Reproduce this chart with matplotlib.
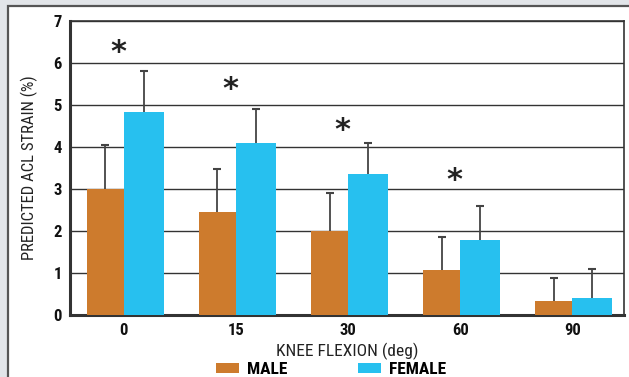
import matplotlib
matplotlib.use("Agg")
import matplotlib.pyplot as plt
from matplotlib.patches import Rectangle, Patch
from matplotlib import font_manager

categories = ["0", "15", "30", "60", "90"]
male = [3.0, 2.45, 2.0, 1.07, 0.33]
male_err = [1.05, 1.03, 0.91, 0.78, 0.55]
female = [4.83, 4.09, 3.36, 1.79, 0.40]
female_err = [0.97, 0.82, 0.74, 0.81, 0.69]
star_y = [6.24, 5.36, 4.40, 3.20]
yticks = [0, 1, 2, 3, 4, 5, 6, 7]

MALE_C = "#CD7B2D"
FEMALE_C = "#27C0EF"
DARK = "#333333"
ERR = "#444444"

names = {f.name for f in font_manager.fontManager.ttflist}
if "Liberation Sans Narrow" in names:
    plt.rcParams['font.family'] = ['Liberation Sans Narrow', 'DejaVu Sans']
elif "Roboto Condensed" in names:
    plt.rcParams['font.family'] = ['Roboto Condensed', 'DejaVu Sans']
else:
    plt.rcParams['font.family'] = ['DejaVu Sans']
    plt.rcParams['font.stretch'] = 'condensed'

fig = plt.figure(figsize=(6.29, 3.77), dpi=100)
fig.patch.set_facecolor("#E2E5E9")
W, H = 629, 377
panel = Rectangle((8 / W, -0.01), 1.0, 1 - 6 / H + 0.01, transform=fig.transFigure,
                  facecolor="white", edgecolor="#555555", linewidth=1.6, zorder=-5)
fig.patches.append(panel)

ax = fig.add_axes([70 / W, 1 - 315 / H, (624 - 70) / W, (315 - 21) / H])
ax.set_zorder(2)
ax.set_facecolor("white")
x = list(range(len(categories)))
wm, wf = 0.33, 0.355
xm = [i - wm / 2 for i in x]
xf = [i + wf / 2 for i in x]

ax.bar(xm, male, width=wm, color=MALE_C, zorder=3)
ax.bar(xf, female, width=wf, color=FEMALE_C, zorder=3)
mtop = [v + e for v, e in zip(male, male_err)]
ftop = [v + e for v, e in zip(female, female_err)]
ax.vlines(xm, male, mtop, colors=ERR, linewidth=1.3, zorder=2)
ax.vlines(xf, female, ftop, colors=ERR, linewidth=1.3, zorder=2)
ax.plot(xm, mtop, linestyle="none", marker="_", markersize=6, markeredgewidth=1.5,
        color=ERR, zorder=2)
ax.plot(xf, ftop, linestyle="none", marker="_", markersize=6, markeredgewidth=1.5,
        color=ERR, zorder=2)
for i, sy in enumerate(star_y):
    ax.text(i - 0.05, sy, "*", ha="center", va="center", fontsize=22,
            family="DejaVu Sans", fontweight="bold", color="#222222")

ax.set_xlim(-0.48, 4.46)
ax.set_ylim(0, 7)
ax.set_yticks(yticks)
ax.set_xticks(x)
ax.set_xticklabels(categories)
ax.yaxis.grid(True, color=DARK, linewidth=1.0, zorder=1)
ax.set_axisbelow(True)
ax.tick_params(axis="both", length=0, labelsize=12, pad=6)
for lab in ax.get_xticklabels() + ax.get_yticklabels():
    lab.set_fontweight("bold")
    lab.set_color("#111111")
for s in ["left", "bottom"]:
    ax.spines[s].set_linewidth(2.2)
    ax.spines[s].set_color(DARK)
for s in ["top", "right"]:
    ax.spines[s].set_linewidth(1.2)
    ax.spines[s].set_color(DARK)

ax.set_ylabel("PREDICTED ACL STRAIN (%)", fontsize=12, color="#222222", labelpad=11)
ax.set_xlabel("KNEE FLEXION (deg)", fontsize=12.5, color="#222222", labelpad=3)

handles = [Patch(facecolor=MALE_C, label="MALE"), Patch(facecolor=FEMALE_C, label="FEMALE")]
leg = fig.legend(handles=handles, loc="center", bbox_to_anchor=(331 / W, 1 - 369.5 / H),
                 ncol=2, frameon=False, handlelength=1.3, handleheight=0.55,
                 columnspacing=4.1, handletextpad=0.45, borderpad=0.0,
                 prop={"weight": "bold", "size": 12.5})

fig.savefig("out.png", dpi=100, facecolor=fig.get_facecolor())
